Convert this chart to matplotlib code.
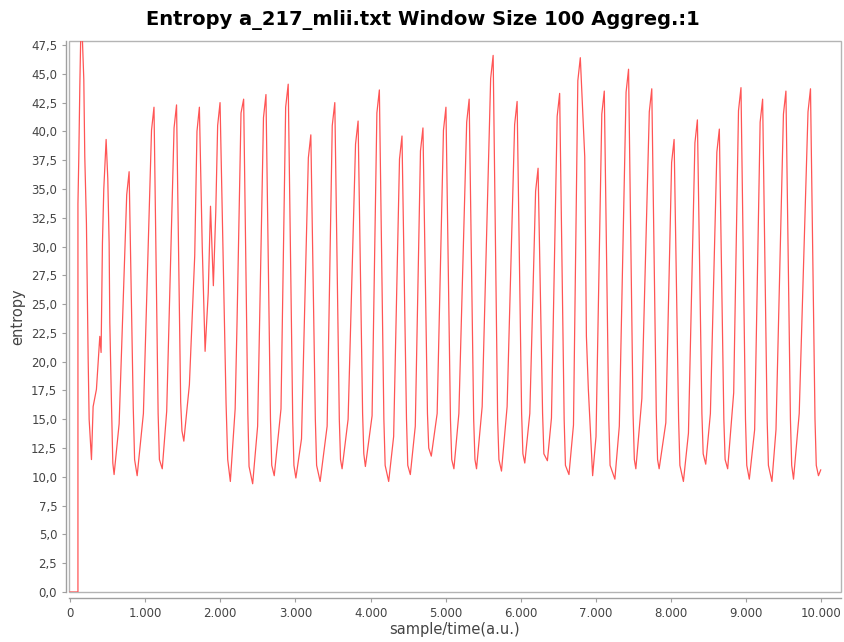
import matplotlib

matplotlib.use("Agg")
import matplotlib.pyplot as plt
from matplotlib.patches import Rectangle
from matplotlib.ticker import FuncFormatter, MultipleLocator

# vertices of the entropy trace (sample index, entropy)
sample = [
    0, 106, 106, 117, 131, 144, 162, 184, 197, 219, 233, 242, 255, 286,
    308, 352, 397, 414, 432, 450, 481, 503, 521, 530, 552, 570, 587,
    654, 755, 787, 842, 860, 894,
    977, 1085, 1118, 1173, 1190, 1228,
    1287, 1385, 1418, 1473, 1490, 1515,
    1589, 1660, 1690, 1722, 1760, 1798, 1840, 1870, 1890, 1908, 1940, 1965, 1997, 2077, 2099, 2134,
    2198, 2223, 2276, 2311, 2367, 2383, 2431,
    2497, 2575, 2608, 2668, 2685, 2718,
    2808, 2870, 2904, 2964, 2980, 3006,
    3081, 3172, 3205, 3265, 3282, 3329,
    3422, 3490, 3524, 3584, 3600, 3621,
    3701, 3800, 3834, 3894, 3910, 3931,
    4020, 4084, 4117, 4177, 4194, 4241,
    4307, 4385, 4418, 4478, 4495, 4529,
    4595, 4664, 4697, 4757, 4774, 4808,
    4886, 4970, 5003, 5063, 5080, 5109,
    5175, 5279, 5312, 5372, 5389, 5410,
    5485, 5598, 5631, 5691, 5708, 5742,
    5817, 5917, 5950, 6010, 6027, 6052,
    6119, 6196, 6229, 6289, 6306, 6353,
    6407, 6483, 6516, 6576, 6593, 6640,
    6700, 6758, 6791, 6850, 6872, 6898, 6929, 6955,
    7000, 7077, 7110, 7170, 7187, 7251,
    7310, 7400, 7433, 7493, 7510, 7530,
    7610, 7709, 7742, 7802, 7819, 7840,
    7929, 8006, 8039, 8099, 8116, 8163,
    8230, 8316, 8349, 8409, 8426, 8460,
    8522, 8608, 8641, 8701, 8718, 8752,
    8832, 8896, 8929, 8989, 9006, 9040,
    9111, 9184, 9217, 9277, 9294, 9341,
    9395, 9494, 9527, 9587, 9604, 9628,
    9704, 9821, 9854, 9914, 9931, 9960, 9990,
]
entropy = [
    0.0, 0.0, 33.7, 37.6, 43.9, 48.6, 48.6, 44.5, 37.8, 32.0, 25.1, 20.2, 15.0, 11.5,
    16.1, 17.6, 22.2, 20.8, 30.3, 35.0, 39.3, 35.9, 30.3, 23.4, 16.4, 11.2, 10.2,
    14.6, 34.5, 36.5, 16.0, 11.5, 10.1,
    15.5, 40.1, 42.1, 15.5, 11.5, 10.7,
    15.7, 40.3, 42.3, 16.5, 14.0, 13.1,
    18.0, 29.2, 40.0, 42.1, 30.0, 20.9, 26.0, 33.5, 30.0, 26.6, 33.0, 40.5, 42.5, 16.4, 11.5, 9.6,
    15.9, 23.4, 41.6, 42.8, 15.5, 10.9, 9.4,
    14.4, 41.2, 43.2, 15.0, 11.0, 10.1,
    15.9, 42.1, 44.1, 15.0, 11.0, 9.9,
    13.3, 37.7, 39.7, 15.0, 11.0, 9.6,
    14.4, 40.5, 42.5, 15.0, 11.5, 10.7,
    15.0, 38.9, 40.9, 15.5, 12.0, 10.9,
    15.3, 41.6, 43.6, 15.0, 11.0, 9.6,
    13.5, 37.6, 39.6, 15.0, 11.0, 10.2,
    14.4, 38.3, 40.3, 15.5, 12.5, 11.8,
    15.5, 40.1, 42.1, 15.0, 11.5, 10.7,
    15.5, 40.8, 42.8, 15.0, 11.5, 10.7,
    16.1, 44.6, 46.6, 15.0, 11.5, 10.5,
    16.1, 40.6, 42.6, 15.5, 12.0, 11.2,
    15.5, 34.8, 36.8, 15.5, 12.0, 11.4,
    15.1, 41.3, 43.3, 15.0, 11.0, 10.2,
    14.5, 44.4, 46.4, 37.8, 22.2, 17.6, 13.5, 10.1,
    13.5, 41.5, 43.5, 15.0, 11.0, 9.8,
    14.4, 43.4, 45.4, 15.5, 11.5, 10.7,
    16.8, 41.7, 43.7, 15.5, 11.5, 10.7,
    14.7, 37.3, 39.3, 15.0, 11.0, 9.6,
    13.8, 39.0, 41.0, 15.5, 12.0, 11.1,
    15.5, 38.2, 40.2, 15.0, 11.5, 10.7,
    17.3, 41.8, 43.8, 15.0, 11.0, 9.8,
    14.1, 40.8, 42.8, 15.0, 11.0, 9.6,
    14.1, 41.5, 43.5, 15.0, 11.0, 9.8,
    15.5, 41.7, 43.7, 15.0, 11.0, 10.1, 10.6,
]

TITLE = "Entropy a_217_mlii.txt Window Size 100 Aggreg.:1"
GRAY = "#a0a0a0"
LABEL = "#444444"

fig = plt.figure(figsize=(8.45, 6.42), dpi=100)
ax = fig.add_axes([69 / 845, 1 - 592 / 642, (841 - 69) / 845, (592 - 41) / 642])

ax.plot(sample, entropy, color="#ff5555", lw=0.9)
ax.set_xlim(-13, 10260)
ax.set_ylim(0, 47.85)

ax.xaxis.set_major_locator(MultipleLocator(1000))
ax.yaxis.set_major_locator(MultipleLocator(2.5))
ax.xaxis.set_major_formatter(FuncFormatter(lambda v, _: f"{int(round(v)):,}".replace(",", ".")))
ax.yaxis.set_major_formatter(FuncFormatter(lambda v, _: f"{v:.1f}".replace(".", ",")))
ax.tick_params(axis="both", colors=GRAY, labelcolor=LABEL, labelsize=8.5, length=3, width=0.8)

for side, sp in ax.spines.items():
    sp.set_color(GRAY)
    sp.set_linewidth(1.0)
ax.spines["top"].set_visible(False)
ax.spines["right"].set_visible(False)
ax.spines["bottom"].set_position(("outward", 4))
ax.spines["left"].set_position(("outward", 2))
ax.add_patch(Rectangle((0, 0), 1, 1, transform=ax.transAxes, fill=False,
                       edgecolor="#b4b4b4", lw=1.0, clip_on=False))

ax.set_xlabel("sample/time(a.u.)", fontsize=10.5, color=LABEL, labelpad=2)
ax.set_ylabel("entropy", fontsize=10.5, color=LABEL, labelpad=4)
fig.suptitle(TITLE, fontsize=14, fontweight="bold", y=0.985)

fig.savefig("out.png", dpi=100)
